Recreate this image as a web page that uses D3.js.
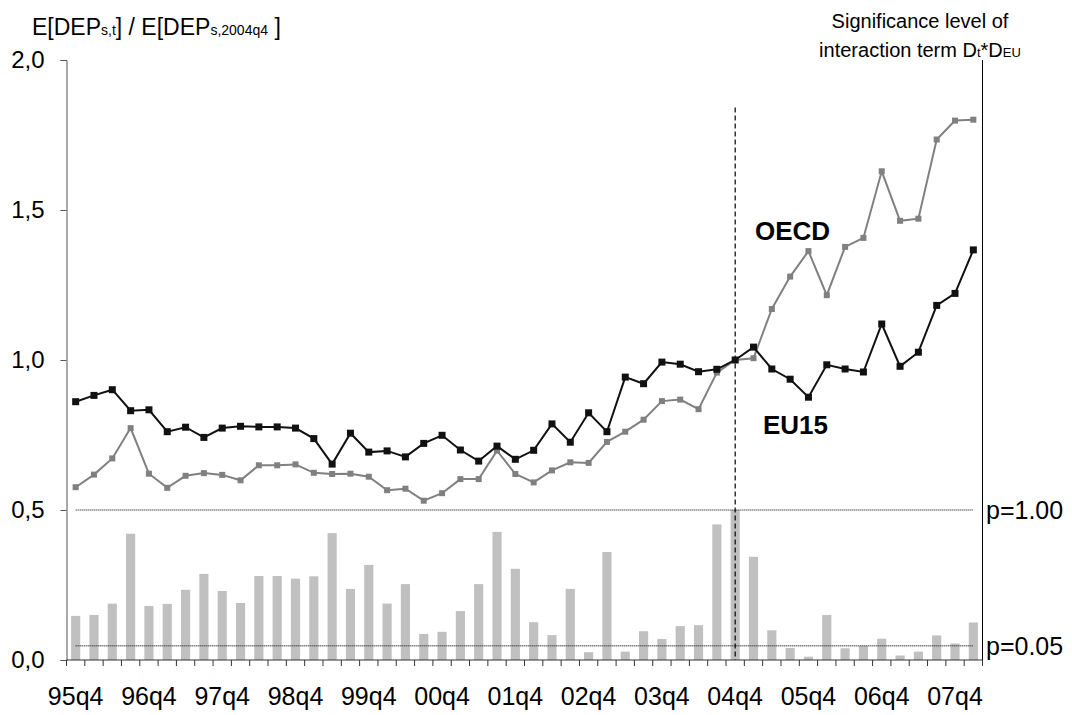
<!DOCTYPE html>
<html>
<head>
<meta charset="utf-8">
<script src="https://cdn.jsdelivr.net/npm/d3@7"></script>
<style>
  html, body { margin: 0; padding: 0; background: #fff; }
  svg { display: block; font-family: "Liberation Sans", Arial, sans-serif; }
</style>
</head>
<body>
<svg id="chart" width="1072" height="715"></svg>
<script>
// ---------------- data ----------------
const quarters = ["95q4","96q1","96q2","96q3","96q4","97q1","97q2","97q3","97q4","98q1","98q2","98q3","98q4",
  "99q1","99q2","99q3","99q4","00q1","00q2","00q3","00q4","01q1","01q2","01q3","01q4","02q1","02q2","02q3","02q4",
  "03q1","03q2","03q3","03q4","04q1","04q2","04q3","04q4","05q1","05q2","05q3","05q4","06q1","06q2","06q3","06q4",
  "07q1","07q2","07q3","07q4","08q1"];
const tickLabels = ["95q4","96q4","97q4","98q4","99q4","00q4","01q4","02q4","03q4","04q4","05q4","06q4","07q4"];
const yTicks = [0, 0.5, 1.0, 1.5, 2.0];

const eu15 = [0.861,0.882,0.901,0.831,0.834,0.761,0.776,0.742,0.773,0.779,0.777,0.777,0.773,0.738,0.653,0.756,0.693,0.697,0.677,
  0.722,0.749,0.700,0.663,0.713,0.669,0.699,0.787,0.726,0.824,0.761,0.943,0.921,0.993,0.986,0.961,0.969,1.000,
  1.043,0.970,0.936,0.876,0.984,0.970,0.960,1.120,0.979,1.026,1.182,1.222,1.367];
const oecd = [0.576,0.618,0.672,0.773,0.621,0.574,0.614,0.623,0.617,0.599,0.649,0.649,0.652,0.624,0.620,0.621,0.611,0.566,0.571,
  0.531,0.556,0.603,0.603,0.698,0.620,0.592,0.632,0.659,0.657,0.727,0.761,0.801,0.863,0.868,0.836,0.958,1.000,
  1.006,1.170,1.278,1.363,1.216,1.377,1.407,1.629,1.464,1.471,1.735,1.798,1.801];
// significance level of interaction term (bar scale: 1 = p=1.00 line)
const signif = [0.294,0.300,0.376,0.842,0.360,0.374,0.468,0.574,0.460,0.380,0.560,0.560,0.542,0.558,0.846,0.474,0.634,0.376,0.506,
  0.174,0.188,0.326,0.506,0.854,0.608,0.252,0.166,0.474,0.052,0.720,0.056,0.192,0.140,0.226,0.232,0.904,1.000,0.688,
  0.198,0.080,0.022,0.300,0.078,0.094,0.142,0.030,0.056,0.164,0.110,0.250];
const pLines = [{label:"p=1.00", v:1.0}, {label:"p=0.05", v:0.095}];
const refQuarter = "04q4";

// ---------------- layout ----------------
const svg = d3.select("#chart");
const x0 = 66.5, x1 = 982.5, yTop = 60, yBot = 660;

const y = d3.scaleLinear().domain([0, 2]).range([yBot, yTop]);
const ySig = d3.scaleLinear().domain([0, 1]).range([y(0), y(0.5)]);
const xBand = d3.scaleBand().domain(quarters).range([x0, x1]).paddingInner(0.5).paddingOuter(0.25);
const xPt = d3.scalePoint().domain(quarters).range([x0, x1]).padding(0.5);
const step = xBand.step();

// bars
svg.append("g").selectAll("rect").data(signif).join("rect")
  .attr("x", (d,i) => xBand(quarters[i]))
  .attr("width", xBand.bandwidth())
  .attr("y", d => ySig(d))
  .attr("height", d => ySig(0) - ySig(d))
  .attr("fill", "#c0c0c0");

// p lines
const pl = svg.append("g");
pl.append("line")
  .attr("x1", xPt(quarters[0])).attr("x2", xPt(quarters[quarters.length-1]))
  .attr("y1", ySig(pLines[0].v)).attr("y2", ySig(pLines[0].v))
  .attr("stroke", "#000").attr("stroke-width", 1).attr("stroke-dasharray", "1,1");
pl.append("line")
  .attr("x1", xPt(quarters[0])).attr("x2", xPt(quarters[quarters.length-1]))
  .attr("y1", ySig(pLines[1].v)).attr("y2", ySig(pLines[1].v))
  .attr("stroke", "#444").attr("stroke-width", 1.6).attr("stroke-dasharray", "1,1");

// vertical dashed reference line
svg.append("line")
  .attr("x1", xPt(refQuarter)).attr("x2", xPt(refQuarter))
  .attr("y1", y(1.842)).attr("y2", yBot)
  .attr("stroke", "#000").attr("stroke-width", 1.2).attr("stroke-dasharray", "5,3");

// lines
const line = d3.line().x((d,i) => xPt(quarters[i])).y(d => y(d));
function drawSeries(data, color, ms) {
  svg.append("path").datum(data).attr("d", line)
    .attr("fill", "none").attr("stroke", color).attr("stroke-width", 2).attr("stroke-linejoin", "miter");
  svg.append("g").selectAll("rect").data(data).join("rect")
    .attr("x", (d,i) => xPt(quarters[i]) - ms/2)
    .attr("y", d => y(d) - ms/2)
    .attr("width", ms).attr("height", ms)
    .attr("fill", color);
}
drawSeries(oecd, "#808080", 6);
drawSeries(eu15, "#111111", 7);

// left axis
const gL = svg.append("g").attr("transform", `translate(${x0},0)`)
  .call(d3.axisLeft(y).tickValues(yTicks).tickSize(6).tickPadding(16)
    .tickFormat(d => d.toFixed(1).replace(".", ",")));
gL.selectAll("path, line").attr("stroke", "#555");
gL.selectAll("text").attr("font-size", 24).attr("fill", "#000")
  .attr("font-family", "Liberation Sans, Arial, sans-serif");

// bottom axis
const gB = svg.append("g");
gB.append("line").attr("x1", x0).attr("x2", x1).attr("y1", yBot).attr("y2", yBot).attr("stroke", "#333");
gB.selectAll("line.tk").data(d3.range(quarters.length + 1)).join("line").attr("class", "tk")
  .attr("x1", i => x0 + i * step).attr("x2", i => x0 + i * step)
  .attr("y1", yBot).attr("y2", yBot + 6).attr("stroke", "#333");
gB.selectAll("text").data(tickLabels).join("text")
  .attr("x", d => xPt(d)).attr("y", 705)
  .attr("text-anchor", "middle").attr("font-size", 25).attr("fill", "#000")
  .text(d => d);

// right axis
svg.append("line").attr("x1", x1).attr("x2", x1).attr("y1", yTop).attr("y2", yBot).attr("stroke", "#000");
svg.selectAll("text.plab").data(pLines).join("text").attr("class", "plab")
  .attr("x", 986).attr("y", d => ySig(d.v) + 9)
  .attr("font-size", 25).attr("fill", "#000").text(d => d.label);

// left title
const t1 = svg.append("text").attr("x", 32).attr("y", 35).attr("font-size", 23).attr("fill", "#000");
t1.append("tspan").text("E[DEP");
t1.append("tspan").attr("font-size", 14).text("s,t");
t1.append("tspan").text("] / E[DEP");
t1.append("tspan").attr("font-size", 14).text("s,2004q4");
t1.append("tspan").text(" ]");

// right title
svg.append("text").attr("x", 920).attr("y", 28).attr("text-anchor", "middle")
  .attr("font-size", 20).attr("fill", "#000").text("Significance level of");
const t2 = svg.append("text").attr("x", 920).attr("y", 57).attr("text-anchor", "middle")
  .attr("font-size", 20).attr("fill", "#000");
t2.append("tspan").text("interaction term D");
t2.append("tspan").attr("font-size", 13).text("t");
t2.append("tspan").text("*D");
t2.append("tspan").attr("font-size", 13).text("EU");

// series labels
svg.append("text").attr("x", 755).attr("y", 240).attr("font-size", 26).attr("font-weight", "bold")
  .attr("fill", "#000").text("OECD");
svg.append("text").attr("x", 763).attr("y", 434).attr("font-size", 26).attr("font-weight", "bold")
  .attr("fill", "#000").text("EU15");
</script>
</body>
</html>
